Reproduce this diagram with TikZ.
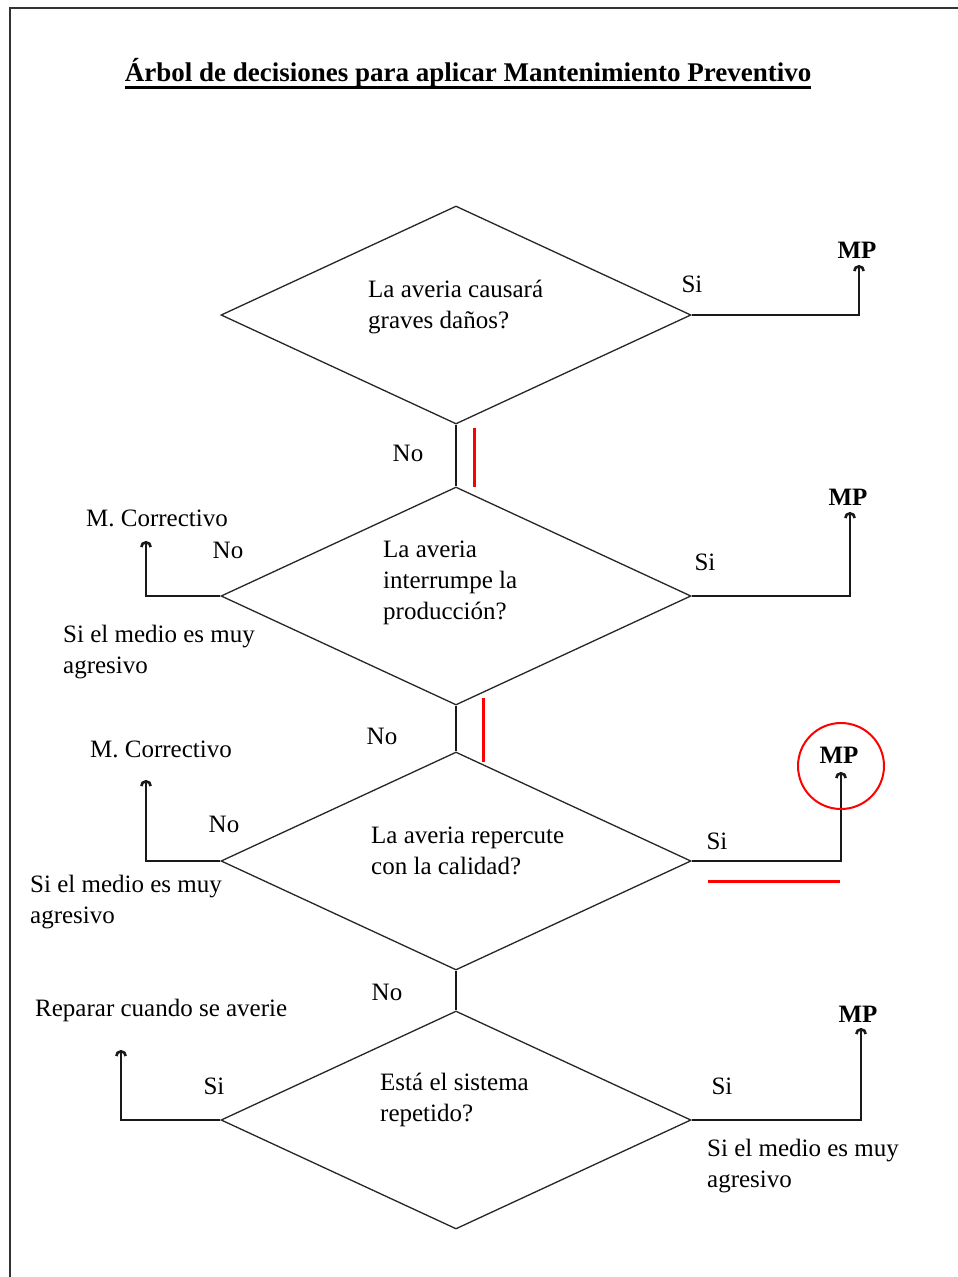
\documentclass[tikz,border=0pt]{standalone}
\usepackage{fontspec}
\setmainfont{Liberation Serif}
\usetikzlibrary{shapes.geometric,arrows.meta}
\tikzset{
  dia/.style={draw=black!85, line width=1.3pt, diamond, inner sep=0pt, minimum width=470pt, minimum height=218pt},
  lbl/.style={inner sep=0pt, font=\fontsize{25}{31}\selectfont, align=left},
  mp/.style={inner sep=0pt, font=\fontsize{25}{31}\selectfont\bfseries},
  conn/.style={draw=black!90, line width=1.6pt},
  arr/.style={conn, -{Arc Barb[length=6pt,width=12pt,line width=2.6pt]}},
  redmark/.style={draw=red, line width=3pt},
}
\begin{document}
\begin{tikzpicture}[x=1pt,y=-1pt]
\useasboundingbox (0,0) rectangle (958,1277);
\fill[white] (0,0) rectangle (958,1277);
% frame
\draw[black!80, line width=1.6pt] (10,1277) -- (10,8) -- (958,8);
% title
\node[inner sep=0pt, font=\fontsize{27}{32}\selectfont\bfseries] (title) at (468,73) {Árbol de decisiones para aplicar Mantenimiento Preventivo};
\draw[line width=2.6pt] ([yshift=-6pt]title.base west) -- ([yshift=-6pt]title.base east);
% diamonds
\node[dia] (d1) at (456,315) {};
\node[dia] (d2) at (456,596) {};
\node[dia] (d3) at (456,861) {};
\node[dia] (d4) at (456,1120) {};
% diamond texts
\node[lbl, anchor=west] (t1) at (368,307) {La averia causará\\graves daños?};
\node[lbl, anchor=west] (t2) at (383,583) {La averia\\interrumpe la\\producción?};
\node[lbl, anchor=west] (t3) at (371,851) {La averia repercute\\con la calidad?};
\node[lbl, anchor=west] (t4) at (380,1100) {Está el sistema\\repetido?};
% vertical connectors
\draw[conn] (d1.south) -- (d2.north);
\draw[conn] (d2.south) -- (d3.north);
\draw[conn] (d3.south) -- (d4.north);
\node[lbl] (no1) at (408,453) {No};
\node[lbl] (no2) at (382,736) {No};
\node[lbl] (no3) at (387,992) {No};
% MP targets
\node[mp] (mp1) at (857,250) {MP};
\node[mp] (mp2) at (848,497) {MP};
\node[mp] (mp3) at (839,755) {MP};
\node[mp] (mp4) at (858,1014) {MP};
\coordinate (e1) at (859,265);
\coordinate (e2) at (850,512);
\coordinate (e3) at (841,772);
\coordinate (e4) at (861,1028);
\draw[arr] (d1.east) -| (e1);
\draw[arr] (d2.east) -| (e2);
\draw[arr] (d3.east) -| (e3);
\draw[arr] (d4.east) -| (e4);
\node[lbl] (si1) at (692,284) {Si};
\node[lbl] (si2) at (705,562) {Si};
\node[lbl] (si3) at (717,841) {Si};
\node[lbl] (si4) at (722,1086) {Si};
% left branches
\coordinate (l2) at (146,541);
\coordinate (l3) at (146,780);
\coordinate (l4) at (121,1050);
\draw[arr] (d2.west) -| (l2);
\draw[arr] (d3.west) -| (l3);
\draw[arr] (d4.west) -| (l4);
\node[lbl] (mc2) at (157,518) {M. Correctivo};
\node[lbl] (mc3) at (161,749) {M. Correctivo};
\node[lbl, anchor=west] (rep) at (35,1010) {Reparar cuando se averie};
\node[lbl] (nol2) at (228,550) {No};
\node[lbl] (nol3) at (224,824) {No};
\node[lbl] (sil4) at (214,1086) {Si};
\node[lbl, anchor=west] (ag2) at (63,652) {Si el medio es muy\\agresivo};
\node[lbl, anchor=west] (ag3) at (30,902) {Si el medio es muy\\agresivo};
\node[lbl, anchor=west] (ag4) at (707,1166) {Si el medio es muy\\agresivo};
% red marks
\draw[redmark] (474,428) -- (474,487);
\draw[redmark] (483,698) -- (483,762);
\draw[redmark] (708,881) -- (840,881);
\draw[red, line width=2pt] (841,766) circle[radius=43pt];
\end{tikzpicture}
\end{document}
